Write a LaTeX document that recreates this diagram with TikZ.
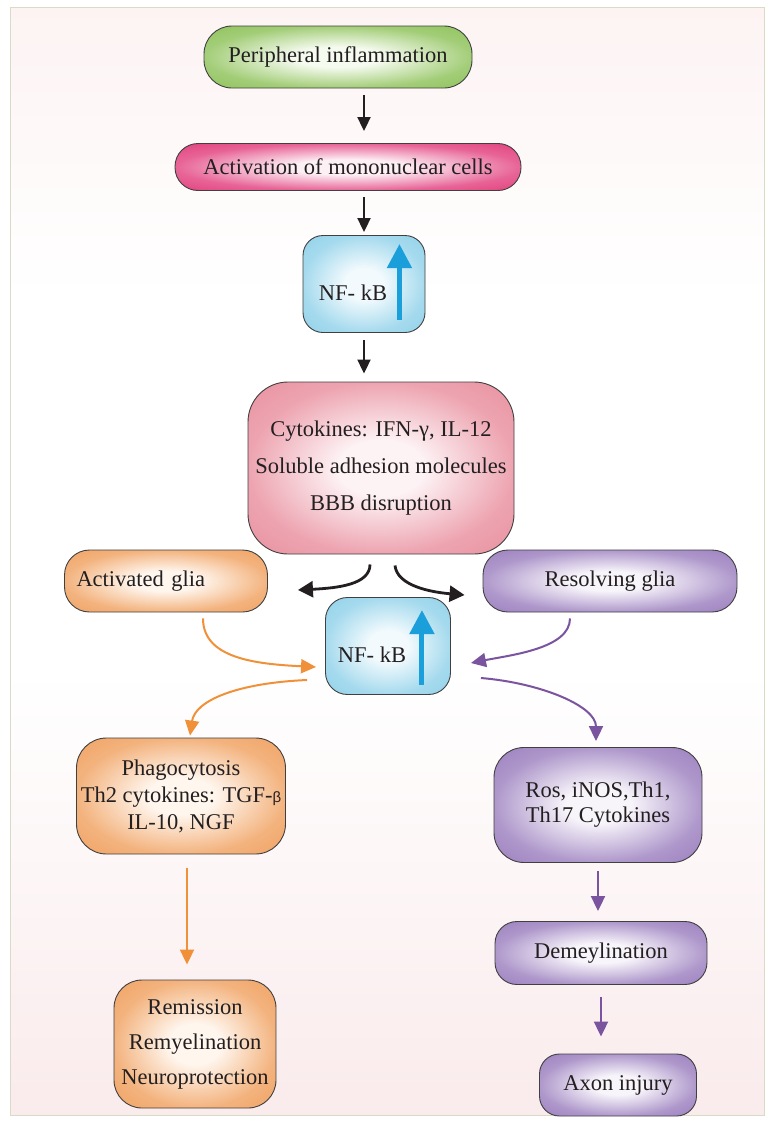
\documentclass[tikz,border=0pt]{standalone}
\usepackage{fontspec}
\setmainfont{Liberation Serif}
\newfontfamily\grkfont{Liberation Sans}
\usetikzlibrary{arrows.meta,positioning,calc}
\definecolor{txtgray}{HTML}{231F20}
\definecolor{bgpink}{HTML}{FAEBEC}
\definecolor{bgtop}{HTML}{FDF3F3}
\definecolor{framecol}{HTML}{D9DCC4}
\definecolor{greenedge}{HTML}{8EC25A}
\definecolor{greencore}{HTML}{F6FBF0}
\definecolor{monoedge}{HTML}{E2407E}
\definecolor{monocore}{HTML}{FDF0F5}
\definecolor{nfedge}{HTML}{92D2EA}
\definecolor{nfcore}{HTML}{F2FAFD}
\definecolor{cytoedge}{HTML}{E9909F}
\definecolor{cytocore}{HTML}{FDF3F5}
\definecolor{oredge}{HTML}{F0A262}
\definecolor{orcore}{HTML}{FFF6EE}
\definecolor{puredge}{HTML}{9C80BF}
\definecolor{purcore}{HTML}{F7F4FA}
\definecolor{blkarr}{HTML}{231F20}
\definecolor{orarr}{HTML}{F0913A}
\definecolor{purarr}{HTML}{7A549F}
\definecolor{bluearr}{HTML}{1A9FDA}
% light centre, coloured rim
\newcommand\glowshade[3]{\pgfdeclareradialshading{#1}{\pgfpointorigin}{color(0bp)=(#2); color(8bp)=(#2); color(25bp)=(#3!80!#2); color(36bp)=(#3)}}
\glowshade{glowgreen}{greencore}{greenedge}
\glowshade{glowmono}{monocore}{monoedge}
\glowshade{glownf}{nfcore}{nfedge}
\glowshade{glowcyto}{cytocore}{cytoedge}
\glowshade{glowor}{orcore}{oredge}
\glowshade{glowpur}{purcore}{puredge}
\pgfdeclareverticalshading{pagebg}{100bp}{color(0bp)=(bgpink); color(25bp)=(bgpink); color(45bp)=(white); color(62bp)=(white); color(75bp)=(bgtop); color(100bp)=(bgtop)}
\begin{document}
\begin{tikzpicture}[x=1pt, y=-1pt,
    flowbox/.style={draw=black!75, line width=0.9pt, align=center,
        text=txtgray, inner sep=0pt, font=\fontsize{22.5}{27}\selectfont},
    blkarrow/.style={draw=blkarr, line width=2pt, -{Triangle[width=13pt,length=14pt]}},
    blkcurve/.style={draw=blkarr, line width=2.8pt, -{Triangle[width=16pt,length=15pt]}},
    orarrow/.style={draw=orarr, line width=2pt, -{Triangle[width=14pt,length=15pt]}},
    purarrow/.style={draw=purarr, line width=2pt, -{Triangle[width=14pt,length=15pt]}},
    uparrow/.style={draw=bluearr, line width=5pt, -{Triangle[width=24pt,length=24pt]}}]
    % page and faint background
    \useasboundingbox (0,0) rectangle (773,1122);
    \shade[shading=pagebg, draw=framecol, line width=1pt] (10,7) rectangle (764,1115);

    % main column
    \node[flowbox, shading=glowgreen, minimum width=268pt, minimum height=62pt, rounded corners=28pt]
        (infl) at (338,57) {Peripheral inflammation};
    \node[flowbox, shading=glowmono, minimum width=346pt, minimum height=47pt, rounded corners=23pt]
        (mono) at (348,167) {Activation of mononuclear cells};
    \node[flowbox, shading=glownf, minimum width=122pt, minimum height=97pt, rounded corners=20pt]
        (nfa) at (364,284) {\raisebox{-16pt}[0pt][0pt]{NF- kB}\hspace*{22pt}};
    \node[flowbox, shading=glowcyto, minimum width=266pt, minimum height=172pt, rounded corners=40pt,
        font=\fontsize{22.5}{37}\selectfont]
        (cyto) at (381,468) {Cytokines: IFN-γ, IL-12\\Soluble adhesion molecules\\BBB disruption};

    % glia and second NF-kB
    \node[flowbox, shading=glowor, text width=179pt, inner xsep=12pt, minimum height=62pt,
        rounded corners=25pt, align=left]
        (actg) at (166,581) {Activated glia};
    \node[flowbox, shading=glowpur, minimum width=254pt, minimum height=62pt, rounded corners=25pt]
        (resg) at (610,581) {Resolving glia};
    \node[flowbox, shading=glownf, minimum width=125pt, minimum height=97pt, rounded corners=22pt]
        (nfb) at (388,646) {\raisebox{-16pt}[0pt][0pt]{NF- kB}\hspace*{32pt}};

    % orange branch
    \node[flowbox, shading=glowor, minimum width=209pt, minimum height=116pt, rounded corners=30pt]
        (phag) at (181,796) {Phagocytosis\\Th2 cytokines: TGF-{\grkfont\fontsize{15}{15}\selectfont β}\\IL-10, NGF};
    \node[flowbox, shading=glowor, minimum width=162pt, minimum height=128pt, rounded corners=28pt,
        font=\fontsize{22.5}{35}\selectfont]
        (remi) at (195,1044) {Remission\\Remyelination\\Neuroprotection};

    % purple branch
    \node[flowbox, shading=glowpur, minimum width=208pt, minimum height=115pt, rounded corners=30pt,
        font=\fontsize{22.5}{25}\selectfont]
        (ros) at (598,805) {Ros, iNOS,Th1,\\Th17 Cytokines};
    \node[flowbox, shading=glowpur, minimum width=212pt, minimum height=63pt, rounded corners=22pt]
        (demy) at (601,953) {Demeylination};
    \node[flowbox, shading=glowpur, minimum width=157pt, minimum height=62pt, rounded corners=20pt]
        (axon) at (618,1085) {Axon injury};

    % up arrows inside NF-kB boxes
    \draw[uparrow] ($(nfa.south east)+(-26,-13)$) -- ($(nfa.north east)+(-26,9)$);
    \draw[uparrow] ($(nfb.south east)+(-29,-10)$) -- ($(nfb.north east)+(-29,13)$);

    % black arrows
    \draw[blkarrow, shorten <=7pt, shorten >=12pt] (infl.south -| nfa.center) -- (mono.north -| nfa.center);
    \draw[blkarrow, shorten <=6pt, shorten >=3pt] (mono.south -| nfa.center) -- (nfa.north);
    \draw[blkarrow, shorten <=7pt, shorten >=8pt] (nfa.south) -- (cyto.north -| nfa.south);
    \draw[blkcurve] ($(cyto.south)+(-11,10)$) .. controls +(0,20) and +(40,-2) .. ($(actg.east)+(30,9)$);
    \draw[blkcurve] ($(cyto.south)+(14,11)$) .. controls +(2,20) and +(-35,-3) .. ($(resg.west)+(-18,14)$);

    % orange arrows
    \draw[orarrow] ($(actg.south)+(37,6)$) .. controls +(0,40) and +(-60,-3) .. ($(nfb.west)+(-9,21)$);
    \draw[orarrow] ($(nfb.west)+(-18,34)$) .. controls +(-70,3) and +(5,-35) .. ($(phag.north)+(9,-2)$);
    \draw[orarrow] ($(phag.south)+(6,14)$) -- ($(remi.north)+(-8,-15)$);

    % purple arrows
    \draw[purarrow] ($(resg.south)+(-40,6)$) .. controls +(0,30) and +(40,-8) .. ($(nfb.east)+(20,17)$);
    \draw[purarrow] ($(nfb.east)+(30,32)$) .. controls +(60,5) and +(0,-35) .. ($(ros.north)+(-2,-6)$);
    \draw[purarrow, shorten <=8pt, shorten >=10pt] (ros.south) -- (ros.south |- demy.north);
    \draw[purarrow, shorten <=12pt, shorten >=17pt] (demy.south) -- (demy.south |- axon.north);
\end{tikzpicture}
\end{document}
